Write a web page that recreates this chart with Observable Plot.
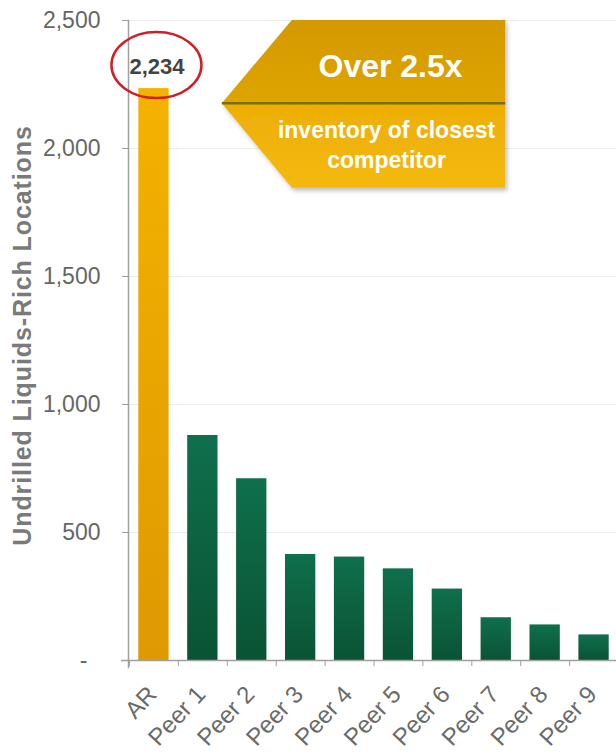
<!DOCTYPE html>
<html><head><meta charset="utf-8">
<script src="https://cdn.jsdelivr.net/npm/d3@7"></script>
<script src="https://cdn.jsdelivr.net/npm/@observablehq/plot@0.6"></script>
<style>
body{margin:0;background:#fff;}
#chart svg{font-family:"Liberation Sans",Arial,Helvetica,sans-serif;}
.ylab text{letter-spacing:0.9px;}
</style>
</head><body><div id="chart"></div>
<script>
const categories = ["AR","Peer 1","Peer 2","Peer 3","Peer 4","Peer 5","Peer 6","Peer 7","Peer 8","Peer 9"];
const values = [2234, 879, 710, 414, 404, 358, 279, 167, 139, 100];
const yTicks = [0, 500, 1000, 1500, 2000, 2500];
const highlightLabel = "2,234";
const zeroLabel = "-";
const yLabel = "Undrilled Liquids-Rich Locations";
const calloutTitle = "Over 2.5x";
const calloutLines = ["inventory of closest", "competitor"];

const data = categories.map((c, i) => ({cat: c, value: values[i]}));
const arData = data.filter(d => d.cat === "AR");
const peerData = data.filter(d => d.cat !== "AR");
const step = (618 - 129) / categories.length;

const plot = Plot.plot({
  width: 616, height: 753,
  marginTop: 20, marginBottom: 93, marginLeft: 128, marginRight: 0,
  style: {fontFamily: '"Liberation Sans",Arial,sans-serif', background: "#fff", overflow: "visible"},
  x: {domain: categories, range: [129, 618], paddingInner: 0.38, paddingOuter: 0.19, round: false},
  y: {domain: [0, 2500]},
  marks: [
    Plot.gridY(yTicks, {stroke: "#ececec", strokeOpacity: 1}),
    Plot.barY(arData, {x: "cat", y: "value", fill: "url(#gradAR)"}),
    Plot.barY(peerData, {x: "cat", y: "value", fill: "url(#gradPeer)"}),
    Plot.ruleY([0], {stroke: "#a0a0a0", strokeWidth: 1.5, insetLeft: -7}),
    Plot.frame({anchor: "left", stroke: "#a0a0a0", strokeWidth: 1.5, insetBottom: -7}),
    Plot.axisY({ticks: yTicks, tickSize: 6, tickPadding: 22, fontSize: 23, fill: "#666", stroke: "#a0a0a0", label: null,
      tickFormat: d => d === 0 ? "" : d3.format(",")(d)}),
    Plot.text([0], {y: d => d, frameAnchor: "left", text: () => zeroLabel, textAnchor: "middle", dx: -45, fontSize: 23, fill: "#666"}),
    Plot.axisX({tickSize: 6, dx: -step / 2, text: null, stroke: "#a0a0a0", label: null}),
    Plot.text(categories, {x: d => d, frameAnchor: "bottom", rotate: -47, textAnchor: "end", lineAnchor: "bottom",
      dx: 4, dy: 35, fontSize: 24, fill: "#6a6a6a"}),
    Plot.text(arData, {x: "cat", y: "value", text: () => highlightLabel, lineAnchor: "bottom", dy: -15, dx: 3,
      fontSize: 22, fontWeight: "bold", fill: "#444"}),
    Plot.text([yLabel], {frameAnchor: "left", textAnchor: "middle", dx: -106, dy: -5, rotate: -90, fontSize: 25,
      fontWeight: "bold", fill: "#7a7a7a", className: "ylab"})
  ]
});

const svg = d3.select(plot);
const defs = svg.insert("defs", ":first-child");
function grad(id, c1, c2) {
  const g = defs.append("linearGradient").attr("id", id).attr("x1", 0).attr("y1", 0).attr("x2", 0).attr("y2", 1);
  g.append("stop").attr("offset", "0%").attr("stop-color", c1);
  g.append("stop").attr("offset", "100%").attr("stop-color", c2);
}
grad("gradAR", "#F5B200", "#DD9A02");
grad("gradPeer", "#0F6F4C", "#0A5335");
grad("gradTop", "#D49902", "#DEA504");
grad("gradBot", "#ECAE06", "#F4B90B");
const f = defs.append("filter").attr("id", "shadow").attr("x", "-10%").attr("y", "-10%").attr("width", "130%").attr("height", "130%");
f.append("feDropShadow").attr("dx", 2).attr("dy", 3).attr("stdDeviation", 2).attr("flood-color", "#000").attr("flood-opacity", 0.25);

const xs = plot.scale("x"), ys = plot.scale("y");
const arCx = xs.apply("AR") + xs.bandwidth / 2;
// red ellipse around the highlighted value
svg.append("ellipse")
  .attr("cx", arCx + 3).attr("cy", ys.apply(values[0]) - 23)
  .attr("rx", 45).attr("ry", 33)
  .attr("fill", "none").attr("stroke", "#D21F26").attr("stroke-width", 2.5);

// callout arrow
const left = xs.apply("Peer 2") - step * 0.19 - 5;
const shoulder = left + 70;
const right = xs.apply("Peer 7") - step * 0.19 + 34;
const yTop = ys.apply(2500), yBot = ys.apply(1845), yMid = ys.apply(2175);
const g = svg.append("g").attr("filter", "url(#shadow)");
g.append("path").attr("d", `M${left},${yMid}L${shoulder},${yTop}L${right},${yTop}L${right},${yMid}Z`).attr("fill", "url(#gradTop)");
g.append("path").attr("d", `M${left},${yMid}L${right},${yMid}L${right},${yBot}L${shoulder},${yBot}Z`).attr("fill", "url(#gradBot)");
svg.append("line").attr("x1", left).attr("x2", right).attr("y1", yMid).attr("y2", yMid).attr("stroke", "#7D6E12").attr("stroke-width", 2.5);
const cx = (shoulder + right) / 2 - 12;
svg.append("text").attr("x", cx + 4).attr("y", yTop + 57).attr("text-anchor", "middle").attr("fill", "#fff")
  .attr("font-size", 32).attr("font-weight", "bold").text(calloutTitle);
calloutLines.forEach((t, i) => {
  svg.append("text").attr("x", cx).attr("y", yMid + 35 + i * 30).attr("text-anchor", "middle").attr("fill", "#fff")
    .attr("font-size", 23).attr("font-weight", "bold").text(t);
});

document.getElementById("chart").append(plot);
</script>
</body></html>
